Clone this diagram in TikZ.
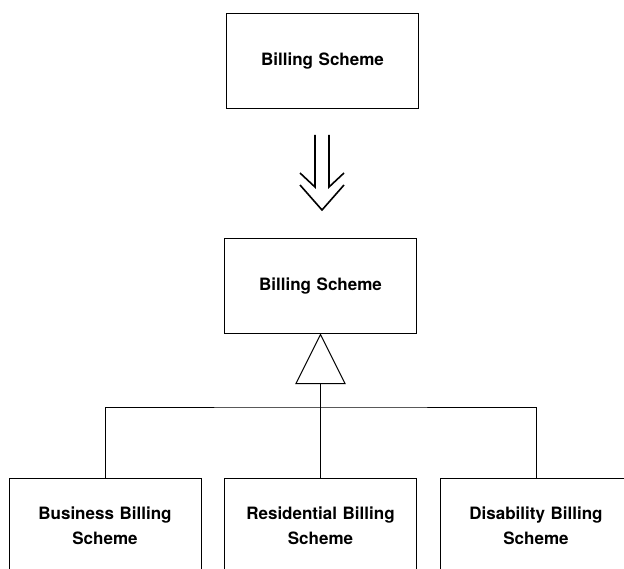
\documentclass[tikz,border=0pt]{standalone}
\usepackage{fontspec}
\setmainfont{TeX Gyre Heros}
\begin{document}
\begin{tikzpicture}[x=1pt,y=-1pt]
	\tikzstyle{classbox}=[draw=black, line width=1pt, minimum width=192pt, minimum height=95pt, inner sep=0pt, text width=170pt, align=center, font=\fontsize{17}{25}\selectfont\bfseries]
	\tikzstyle{link}=[draw=black, line width=1pt]
	\tikzstyle{refine}=[draw=black, line width=1.6pt, line join=miter]
	\useasboundingbox (0,0) rectangle (624,569);
	\clip (0,0) rectangle (624,569);
	% before
	\node[classbox] (old) at (322.5,61) {Billing Scheme};
	% refinement arrow
	\coordinate (arrtop) at (322,135);
	\coordinate (arrtip) at (322,210);
	\draw[refine] ([xshift=-7pt]arrtop) -- ++(0,52) -- ++(-15,-14);
	\draw[refine] ([xshift=7pt]arrtop) -- ++(0,52) -- ++(15,-14);
	\draw[refine] ([shift={(-22,-25)}]arrtip) -- (arrtip) -- ++(22,-25);
	% after
	\node[classbox] (base) at (320.5,286.5) {Billing Scheme};
	\node[classbox] (bus) at (105,525.5) {Business Billing\\Scheme};
	\node[classbox] (res) at (320.5,525.5) {Residential Billing\\Scheme};
	\node[classbox] (dis) at (536,525.5) {Disability Billing\\Scheme};
	% generalisation
	\draw[link] (base.south) -- ++(-24.5,49) coordinate (triL) -- ++(49,0) -- cycle;
	\coordinate (tribase) at ([xshift=24.5pt]triL);
	\coordinate (junc) at (tribase |- 0,407);
	\draw[link] (tribase) -- (junc);
	\draw[link] (bus.north) |- (junc) -| (dis.north);
	\draw[link] (junc) -- (res.north);
\end{tikzpicture}
\end{document}
